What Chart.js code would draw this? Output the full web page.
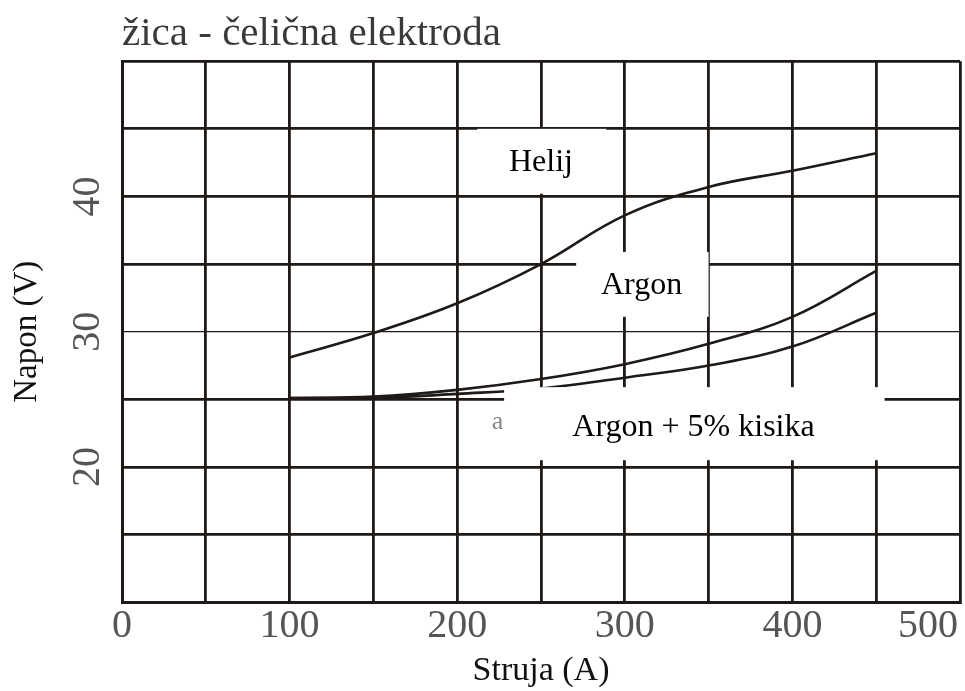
<!DOCTYPE html>
<html>
<head>
<meta charset="utf-8">
<script src="https://cdn.jsdelivr.net/npm/chart.js@4.4.1/dist/chart.umd.min.js"></script>
<style>
  body { margin: 0; background: #fff; }
  #wrap { width: 965px; height: 691px; }
</style>
</head>
<body>
<div id="wrap"><canvas id="weldChart"></canvas></div>
<script>
// struja (A) na kojoj su ocitane krivulje
var current = [100, 150, 200, 250, 300, 350, 400, 450];
// napon (V) za svaki plin
var helij = [28.1, 29.9, 32.1, 35.0, 38.6, 40.7, 41.9, 43.2];
var argon = [25.1, 25.2, 25.7, 26.5, 27.6, 29.1, 31.1, 34.5];
var argonKisik = [25.1, 25.1, 25.4, 25.8, 26.6, 27.5, 28.9, 31.4];

var xTicks = [0, 100, 200, 300, 400, 500];
var yTicks = [20, 30, 40];

// natpisi u bijelim okvirima (u jedinicama osi)
var labelBoxes = [
    { text: 'Helij', x0: 212, x1: 289, y0: 40.2, y1: 45.0, tx: 250, ty: 42.5 },
    { text: 'Argon', x0: 271, x1: 350, y0: 31.1, y1: 35.9, tx: 310, ty: 33.4 },
    { text: 'Argon + 5% kisika', x0: 228, x1: 455, y0: 20.5, y1: 25.9, tx: 341, ty: 22.9 }
];

var ink = '#1f1a17';
var tickFont = { family: 'Liberation Serif', size: 40 };
var tickColor = '#555';

function toPoints(ys) {
    return current.map(function (x, i) { return { x: x, y: ys[i] }; });
}

function lineSet(label, ys) {
    return {
        label: label,
        data: toPoints(ys),
        borderColor: ink,
        borderWidth: 2.6,
        pointRadius: 0,
        fill: false,
        tension: 0.4
    };
}

var boxPlugin = {
    id: 'labelBoxes',
    afterDatasetsDraw: function (chart) {
        var c = chart.ctx, xs = chart.scales.x, ys = chart.scales.y;
        c.save();
        // ostatak starog natpisa lijevo od okvira
        c.fillStyle = '#888';
        c.font = '26px "Liberation Serif"';
        c.textAlign = 'center';
        c.textBaseline = 'middle';
        c.fillText('a', xs.getPixelForValue(224), ys.getPixelForValue(23.3));
        labelBoxes.forEach(function (b) {
            var left = xs.getPixelForValue(b.x0), right = xs.getPixelForValue(b.x1);
            var top = ys.getPixelForValue(b.y1), bottom = ys.getPixelForValue(b.y0);
            c.fillStyle = '#fff';
            c.fillRect(left, top, right - left, bottom - top);
            c.fillStyle = '#000';
            c.font = '32px "Liberation Serif"';
            c.fillText(b.text, xs.getPixelForValue(b.tx), ys.getPixelForValue(b.ty));
        });
        // oznaka 500 je na slici pomaknuta ulijevo od zadnje linije
        c.fillStyle = tickColor;
        c.font = '40px "Liberation Serif"';
        c.fillText('500', xs.getPixelForValue(500) - 32, xs.top + 24);
        c.restore();
    }
};

var ctx = document.getElementById('weldChart').getContext('2d');
var weldChart = new Chart(ctx, {
    type: 'line',
    data: {
        datasets: [
            lineSet('Helij', helij),
            lineSet('Argon', argon),
            lineSet('Argon + 5% kisika', argonKisik)
        ]
    },
    options: {
        responsive: true,
        maintainAspectRatio: false,
        animation: false,
        layout: { padding: { left: 8, right: 5, top: 8, bottom: 0 } },
        plugins: {
            legend: { display: false },
            tooltip: { enabled: false },
            title: {
                display: true,
                text: 'žica - čelična elektroda',
                align: 'start',
                fullSize: false,
                color: '#3a3a3a',
                font: { family: 'Liberation Serif', size: 41, weight: 'normal' },
                padding: { top: 2, bottom: 2 }
            }
        },
        scales: {
            x: {
                type: 'linear',
                min: 0,
                max: 500,
                grid: { color: ink, lineWidth: 2.8, drawTicks: false },
                border: { color: ink, width: 3 },
                ticks: {
                    stepSize: 50,
                    autoSkip: false,
                    maxRotation: 0,
                    padding: 0,
                    color: tickColor,
                    font: tickFont,
                    callback: function (v) {
                        return (xTicks.indexOf(v) >= 0 && v !== 500) ? String(v) : '';
                    }
                },
                title: {
                    display: true,
                    text: 'Struja (A)',
                    color: '#111',
                    font: { family: 'Liberation Serif', size: 34 },
                    padding: { top: 0, bottom: 0 }
                }
            },
            y: {
                min: 10,
                max: 50,
                grid: {
                    color: ink,
                    lineWidth: function (c) { return c.tick && c.tick.value === 30 ? 1.2 : 2.8; },
                    drawTicks: false
                },
                border: { color: ink, width: 3 },
                ticks: {
                    stepSize: 5,
                    minRotation: 90,
                    maxRotation: 90,
                    crossAlign: 'center',
                    padding: 14,
                    color: tickColor,
                    font: tickFont,
                    callback: function (v) {
                        return yTicks.indexOf(v) >= 0 ? String(v) : '';
                    }
                },
                title: {
                    display: true,
                    text: 'Napon (V)',
                    color: '#111',
                    font: { family: 'Liberation Serif', size: 33, lineHeight: 1.0 },
                    padding: { top: 3, bottom: 2 }
                }
            }
        }
    },
    plugins: [boxPlugin]
});
</script>
</body>
</html>
